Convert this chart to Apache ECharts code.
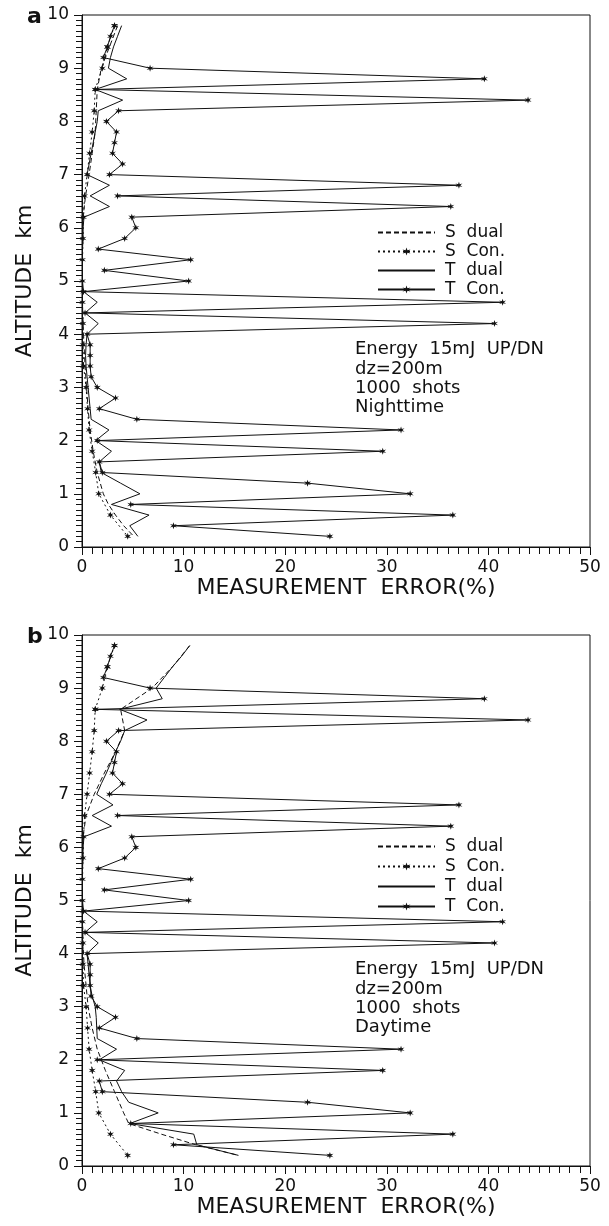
<!DOCTYPE html>
<html>
<head>
<meta charset="utf-8">
<script src="https://cdn.jsdelivr.net/npm/echarts@6/dist/echarts.min.js"></script>
<style>
  html, body { margin: 0; background: #fff; }
  #chart { width: 609px; height: 1226px; }
</style>
</head>
<body>
<div id="chart"></div>
<script>
// altitudes (km) - T series every 200 m, S series every 400 m
const ALT_T = [9.8, 9.6, 9.4, 9.2, 9.0, 8.8, 8.6, 8.4, 8.2, 8.0, 7.8, 7.6, 7.4, 7.2, 7.0, 6.8, 6.6, 6.4, 6.2, 6.0,
  5.8, 5.6, 5.4, 5.2, 5.0, 4.8, 4.6, 4.4, 4.2, 4.0, 3.8, 3.6, 3.4, 3.2, 3.0, 2.8, 2.6, 2.4, 2.2, 2.0,
  1.8, 1.6, 1.4, 1.2, 1.0, 0.8, 0.6, 0.4, 0.2];
const ALT_S = [9.8, 9.4, 9.0, 8.6, 8.2, 7.8, 7.4, 7.0, 6.6, 6.2, 5.8, 5.4, 5.0, 4.6, 4.2, 3.8, 3.4, 3.0, 2.6, 2.2,
  1.8, 1.4, 1.0, 0.6, 0.2];
const ALT_SD = [9.8, 9.4, 9.0, 8.6, 8.2, 7.8, 7.4, 7.0, 6.6, 6.2, 5.8, 5.4, 5.0, 4.6, 4.2, 3.8, 3.4, 3.0, 2.6, 2.2,
  1.8, 1.4, 1.0, 0.8, 0.6, 0.4, 0.2];

// conventional method, same in both panels
const T_CON = [3.2, 2.8, 2.5, 2.1, 6.7, 39.6, 1.3, 43.9, 3.6, 2.4, 3.4, 3.2, 3.0, 4.0, 2.7, 37.1, 3.5, 36.3, 4.9, 5.3,
  4.2, 1.6, 10.7, 2.2, 10.5, 0.15, 41.4, 0.3, 40.6, 0.5, 0.8, 0.8, 0.8, 0.9, 1.5, 3.3, 1.7, 5.4, 31.4, 1.5,
  29.6, 1.7, 2.0, 22.2, 32.3, 4.8, 36.5, 9.0, 24.4];
const S_CON = [3.2, 2.5, 2.0, 1.3, 1.2, 1.0, 0.75, 0.5, 0.25, 0.15, 0.1, 0.05, 0.05, 0.05, 0.1, 0.1, 0.15, 0.4, 0.55, 0.7,
  1.0, 1.35, 1.65, 2.8, 4.5];

// dual method, night (a)
const T_DUAL_A = [3.9, 3.5, 3.1, 2.8, 2.6, 4.4, 1.3, 4.0, 1.6, 1.5, 1.3, 1.1, 0.9, 0.7, 0.5, 2.7, 0.8, 2.7, 0.2, 0.1,
  0.1, 0.05, 0.05, 0.05, 0.05, 0.15, 1.5, 0.3, 1.6, 0.5, 0.4, 0.35, 0.4, 0.5, 0.6, 0.7, 0.8, 0.9, 2.65, 1.35,
  2.9, 1.7, 1.9, 3.8, 5.7, 2.9, 6.6, 4.7, 5.5];
const S_DUAL_A = [3.5, 2.7, 1.9, 1.5, 1.4, 1.3, 1.0, 0.7, 0.35, 0.1, 0.05, 0.05, 0.05, 0.05, 0.1, 0.2, 0.3, 0.45, 0.6, 0.8,
  1.1, 1.5, 2.1, 2.6, 3.3, 4.1, 5.1];

// dual method, day (b)
const T_DUAL_B = [10.6, 9.8, 8.9, 8.1, 7.3, 7.9, 3.7, 6.4, 4.2, 3.8, 3.3, 2.85, 2.4, 1.9, 1.45, 3.05, 1.0, 2.9, 0.2, 0.1,
  0.1, 0.05, 0.05, 0.05, 0.05, 0.15, 1.5, 0.3, 1.6, 0.5, 0.6, 0.7, 0.8, 1.0, 1.3, 1.4, 1.45, 1.5, 3.4, 1.7,
  4.2, 3.4, 3.9, 4.6, 7.5, 4.7, 11.0, 11.3, 15.4];
const S_DUAL_B = [10.6, 8.9, 6.9, 3.8, 4.2, 3.3, 2.2, 1.2, 0.4, 0.1, 0.05, 0.05, 0.05, 0.05, 0.1, 0.2, 0.4, 0.6, 1.0, 1.5,
  2.3, 3.2, 4.1, 4.6, 7.8, 11.2, 15.4];

const X_TICKS = [0, 10, 20, 30, 40, 50];
const Y_TICKS = [0, 1, 2, 3, 4, 5, 6, 7, 8, 9, 10];
const NAMES = ['S dual', 'S Con.', 'T dual', 'T Con.'];
const NOTE_A = ['Energy  15mJ  UP/DN', 'dz=200m', '1000  shots', 'Nighttime'];
const NOTE_B = ['Energy  15mJ  UP/DN', 'dz=200m', '1000  shots', 'Daytime'];

const FONT = 'DejaVu Sans';
const INK = '#111';
const STAR = 'path://M0,-10L2,-3L8.7,-5L3.5,0L8.7,5L2,3L0,10L-2,3L-8.7,5L-3.5,0L-8.7,-5L-2,-3Z';

const pair = (vals, alts) => vals.map((v, i) => [v, alts[i]]);

const chart = echarts.init(document.getElementById('chart'));

const grids = [
  {left: 82, top: 15, width: 508, height: 532},
  {left: 82, top: 635, width: 508, height: 531}
];

const xAxis = grids.map((g, i) => ({
  type: 'value', gridIndex: i, min: X_TICKS[0], max: X_TICKS[X_TICKS.length - 1], interval: 10,
  name: 'MEASUREMENT  ERROR(%)', nameLocation: 'middle', nameGap: 30,
  nameTextStyle: {fontFamily: FONT, fontSize: 22, color: INK, padding: [0, 0, 0, 20]},
  axisLine: {lineStyle: {color: INK, width: 1}},
  axisTick: {length: 8, lineStyle: {color: INK}},
  minorTick: {show: true, splitNumber: 10, length: 7, lineStyle: {color: INK}},
  splitLine: {show: false},
  axisLabel: {fontFamily: FONT, fontSize: 17, color: INK, margin: 12}
}));

const yAxis = grids.map((g, i) => ({
  type: 'value', gridIndex: i, min: Y_TICKS[0], max: Y_TICKS[Y_TICKS.length - 1], interval: 1,
  name: 'ALTITUDE  km', nameLocation: 'middle', nameGap: 46, nameRotate: 90,
  nameTextStyle: {fontFamily: FONT, fontSize: 22, color: INK},
  axisLine: {lineStyle: {color: INK, width: 1}},
  axisTick: {length: 8, lineStyle: {color: INK}},
  minorTick: {show: true, splitNumber: 10, length: 6, lineStyle: {color: INK}},
  splitLine: {show: false},
  axisLabel: {fontFamily: FONT, fontSize: 17, color: INK, margin: 13}
}));

const panels = [
  {sDual: S_DUAL_A, tDual: T_DUAL_A},
  {sDual: S_DUAL_B, tDual: T_DUAL_B}
];

const series = [];
panels.forEach((p, i) => {
  series.push(
    {name: 'S dual', data: pair(p.sDual, ALT_SD), symbol: 'none',
      lineStyle: {type: [5, 3]}},
    {name: 'S Con.', data: pair(S_CON, ALT_S), symbol: STAR, symbolSize: 7,
      lineStyle: {type: [2, 3]}},
    {name: 'T dual', data: pair(p.tDual, ALT_T), symbol: 'none',
      lineStyle: {type: 'solid'}},
    {name: 'T Con.', data: pair(T_CON, ALT_T), symbol: STAR, symbolSize: 7,
      lineStyle: {type: 'solid'}}
  );
  series.slice(-4).forEach(s => {
    s.type = 'line';
    s.xAxisIndex = i;
    s.yAxisIndex = i;
    s.animation = false;
    s.itemStyle = {color: INK};
    s.lineStyle = {...s.lineStyle, color: INK, width: 1};
  });
});

// dual items: line sample only, no marker
const legendData = NAMES.map(n => n.indexOf('dual') > 0 ? {name: n, itemStyle: {opacity: 0}} : {name: n});

const legend = [[219, 19], [833, 20]].map(([top, pitch]) => ({
  data: legendData, orient: 'vertical', left: 372, top: top,
  itemWidth: 57, itemHeight: 10, itemGap: pitch - 17,
  textStyle: {fontFamily: FONT, fontSize: 17, color: INK, lineHeight: 17, padding: [0, 0, 0, 5]},
  formatter: n => n.replace(' ', '  ')
}));

const noteText = (lines, top) => ({
  type: 'text', left: 355, top: top,
  style: {text: lines.join('\n'), font: '18px ' + FONT, lineHeight: 19.3, fill: INK}
});

chart.setOption({
  backgroundColor: '#fff',
  animation: false,
  grid: grids.map(g => ({...g, show: true, borderColor: INK, borderWidth: 1})),
  xAxis,
  yAxis,
  legend,
  series,
  graphic: [
    noteText(NOTE_A, 340),
    noteText(NOTE_B, 960),
    {type: 'text', left: 27, top: 6, style: {text: 'a', font: 'bold 22px ' + FONT, fill: INK}},
    {type: 'text', left: 27, top: 626, style: {text: 'b', font: 'bold 22px ' + FONT, fill: INK}}
  ]
});
</script>
</body>
</html>
